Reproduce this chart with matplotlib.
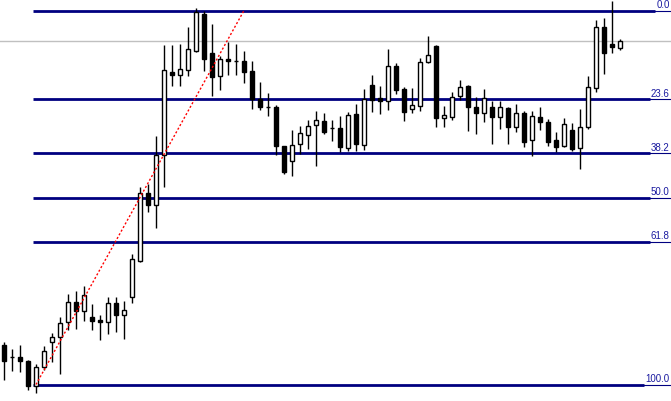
import matplotlib
matplotlib.use("Agg")
import matplotlib.pyplot as plt
import numpy as np

# candle data (price units), one entry per bar
opens  = [54, 42, 42, 38, 13, 32, 57, 62, 77, 97, 88, 82, 79, 77, 96, 84, 102, 138, 206, 194,
          244, 327, 324, 329, 348, 385, 346, 323, 340, 338, 338, 328, 300, 292, 292, 253, 238, 255, 264, 274,
          278, 271, 271, 251, 285, 254, 314, 301, 298, 333, 310, 290, 293, 337, 353, 281, 282, 303, 313, 292,
          286, 292, 282, 291, 272, 286, 259, 282, 277, 259, 253, 269, 251, 272, 311, 372, 355, 351]
highs  = [57, 50, 54, 39, 35, 53, 66, 82, 105, 108, 113, 95, 84, 102, 102, 98, 145, 212, 215, 263,
          354, 354, 355, 372, 391, 388, 375, 343, 357, 355, 348, 338, 317, 306, 294, 253, 269, 273, 279, 288,
          286, 279, 283, 287, 295, 310, 324, 313, 350, 336, 312, 311, 341, 363, 354, 293, 307, 319, 314, 302,
          310, 298, 298, 292, 295, 288, 288, 292, 280, 267, 281, 276, 290, 323, 379, 381, 398, 360]
lows   = [19, 28, 27, 9, 6, 29, 37, 25, 69, 70, 78, 69, 59, 65, 67, 60, 96, 137, 187, 171,
          212, 313, 313, 323, 347, 328, 303, 309, 324, 324, 316, 290, 289, 283, 244, 225, 223, 245, 250, 233,
          265, 258, 247, 248, 248, 249, 287, 285, 289, 305, 278, 286, 288, 336, 272, 272, 279, 299, 268, 265,
          277, 255, 270, 255, 267, 252, 243, 269, 253, 247, 252, 248, 230, 270, 307, 325, 346, 349]
closes = [38, 42, 38, 13, 32, 48, 62, 76, 97, 88, 104, 78, 77, 96, 84, 89, 140, 206, 194, 244,
          329, 324, 330, 350, 387, 340, 322, 340, 338, 338, 327, 300, 292, 292, 253, 227, 254, 266, 273, 279,
          267, 271, 252, 284, 255, 300, 299, 298, 333, 309, 287, 294, 337, 344, 281, 284, 302, 312, 292, 286,
          301, 282, 292, 272, 286, 257, 283, 277, 257, 252, 275, 250, 272, 312, 372, 346, 352, 358]

# fibonacci retracement anchors
fib_start = 4
fib_end = 30
fib_low = 14
fib_high = 388
fib_levels = [0.0, 23.6, 38.2, 50.0, 61.8, 100.0]
last_price = 358

fig = plt.figure(figsize=(6.71, 4.02), dpi=100)
ax = fig.add_axes([0, 0, 1, 1])
ax.set_xlim(-0.5, 83.375)
ax.set_ylim(-2.5, 399.5)
ax.axis("off")

x = np.arange(len(opens))

# current price line
ax.axhline(last_price, color="#c0c0c0", lw=1, zorder=1)

# fib levels
navy = "#000080"
fig.canvas.draw()
r = fig.canvas.get_renderer()
for lvl in fib_levels:
    price = fib_high - lvl / 100 * (fib_high - fib_low)
    t = ax.text(83.2, price + 1.2, "%.1f" % lvl, ha="right", va="bottom",
                fontsize=7, family="Liberation Sans", color="#1a1aa0", zorder=5)
    bb = t.get_window_extent(renderer=r)
    x_left = ax.transData.inverted().transform((bb.x0 - 1, 0))[0]
    ax.plot([fib_start - 0.4, x_left], [price, price], color=navy, lw=2, zorder=2,
            solid_capstyle="butt")
    ax.plot([x_left, 83.375], [price, price], color=navy, lw=0.8, zorder=2)

# fib trend line
ax.plot([fib_start, fib_end], [fib_low, fib_high], color="red", lw=1,
        linestyle=(0, (1.5, 1.5)), zorder=4)

# candles
ax.vlines(x, lows, highs, color="black", lw=1, zorder=3)
bottoms = [min(o, c) for o, c in zip(opens, closes)]
heights = [abs(c - o) for o, c in zip(opens, closes)]
colors = ["white" if c > o else "black" for o, c in zip(opens, closes)]
ax.bar(x, heights, bottom=bottoms, width=0.6, color=colors, edgecolor="black",
       linewidth=1, zorder=3)

fig.savefig("out.png", dpi=100, facecolor="white")
